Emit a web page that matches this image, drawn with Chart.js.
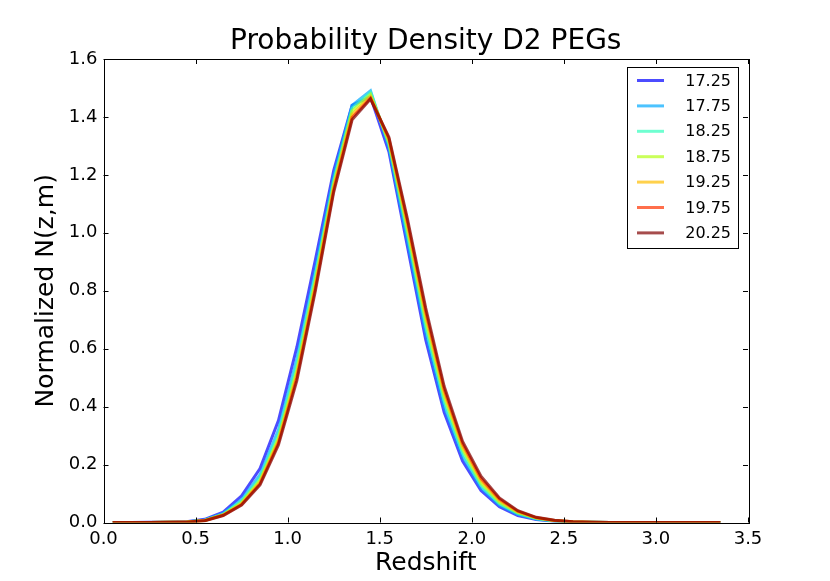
<!DOCTYPE html>
<html>
<head>
<meta charset="utf-8">
<script src="https://cdn.jsdelivr.net/npm/chart.js@4/dist/chart.umd.min.js"></script>
<style>
  body { margin: 0; background: #fff; }
  #wrap { width: 830px; height: 581px; }
</style>
</head>
<body>
<div id="wrap"><canvas id="chart1" width="830" height="581"></canvas></div>
<script>
// redshift bins
const redshift = [0.05, 0.15, 0.25, 0.35, 0.45, 0.55, 0.65, 0.75, 0.85, 0.95,
                  1.05, 1.15, 1.25, 1.35, 1.45, 1.55, 1.65, 1.75, 1.85, 1.95,
                  2.05, 2.15, 2.25, 2.35, 2.45, 2.55, 2.65, 2.75, 2.85, 2.95,
                  3.05, 3.15, 3.25, 3.35];

const magLabels = ["17.25", "17.75", "18.25", "18.75", "19.25", "19.75", "20.25"];

const m1725 = [0, 0, 0.0005, 0.001, 0.003, 0.011, 0.036, 0.092, 0.186, 0.352, 0.605, 0.905, 1.215, 1.440, 1.470, 1.280, 0.955, 0.630, 0.380, 0.212, 0.110, 0.054, 0.024, 0.010, 0.004, 0.0015, 0.0005, 0, 0, 0, 0, 0, 0, 0];
const m1775 = [0, 0, 0.0004, 0.001, 0.002, 0.009, 0.031, 0.080, 0.165, 0.320, 0.565, 0.870, 1.195, 1.440, 1.490, 1.295, 0.975, 0.655, 0.400, 0.228, 0.120, 0.060, 0.028, 0.012, 0.005, 0.002, 0.0007, 0, 0, 0, 0, 0, 0, 0];
const m1825 = [0, 0, 0.0003, 0.001, 0.002, 0.008, 0.029, 0.074, 0.155, 0.305, 0.545, 0.850, 1.180, 1.430, 1.485, 1.305, 0.995, 0.675, 0.418, 0.240, 0.128, 0.065, 0.031, 0.013, 0.005, 0.002, 0.0008, 0, 0, 0, 0, 0, 0, 0];
const m1875 = [0, 0, 0.0003, 0.0008, 0.002, 0.007, 0.027, 0.069, 0.146, 0.292, 0.527, 0.834, 1.168, 1.420, 1.478, 1.312, 1.012, 0.695, 0.434, 0.252, 0.136, 0.070, 0.034, 0.015, 0.006, 0.0025, 0.001, 0, 0, 0, 0, 0, 0, 0];
const m1925 = [0, 0, 0.0002, 0.0007, 0.0015, 0.007, 0.026, 0.065, 0.139, 0.282, 0.512, 0.820, 1.158, 1.408, 1.470, 1.320, 1.028, 0.713, 0.448, 0.263, 0.145, 0.076, 0.037, 0.016, 0.0065, 0.0028, 0.001, 0, 0, 0, 0, 0, 0, 0];
const m1975 = [0, 0, 0.0002, 0.0006, 0.0013, 0.0065, 0.025, 0.062, 0.134, 0.275, 0.500, 0.808, 1.148, 1.398, 1.465, 1.326, 1.040, 0.728, 0.460, 0.272, 0.152, 0.081, 0.039, 0.017, 0.007, 0.003, 0.0011, 0, 0, 0, 0, 0, 0, 0];
const m2025 = [0, 0, 0.0002, 0.0005, 0.0012, 0.006, 0.024, 0.060, 0.130, 0.268, 0.490, 0.798, 1.140, 1.390, 1.462, 1.330, 1.050, 0.740, 0.470, 0.280, 0.160, 0.085, 0.041, 0.018, 0.0075, 0.003, 0.0012, 0, 0, 0, 0, 0, 0, 0];

const xTicks = [0, 0.5, 1.0, 1.5, 2.0, 2.5, 3.0, 3.5];
const yTicks = [0, 0.2, 0.4, 0.6, 0.8, 1.0, 1.2, 1.4, 1.6];

const allSeries = [m1725, m1775, m1825, m1875, m1925, m1975, m2025];
const colors = ['rgba(0,0,255,0.7)', 'rgba(0,170,255,0.7)', 'rgba(50,255,190,0.7)',
                'rgba(180,255,20,0.7)', 'rgba(255,190,0,0.7)', 'rgba(255,50,0,0.7)',
                'rgba(128,0,0,0.7)'];

const FONT = "'DejaVu Sans', sans-serif";

// frame, inward ticks on all four sides and the boxed legend
const framePlugin = {
    id: 'frame',
    afterDraw(chart) {
        const ctx = chart.ctx;
        const a = chart.chartArea;
        const xs = chart.scales.x, ys = chart.scales.y;
        ctx.save();
        ctx.strokeStyle = '#000';
        ctx.lineWidth = 1;
        ctx.strokeRect(Math.round(a.left) + 0.5, Math.round(a.top) + 0.5,
                       Math.round(a.right - a.left), Math.round(a.bottom - a.top));
        ctx.beginPath();
        xTicks.forEach(v => {
            const px = Math.round(xs.getPixelForValue(v)) + 0.5;
            ctx.moveTo(px, a.bottom); ctx.lineTo(px, a.bottom - 5);
            ctx.moveTo(px, a.top); ctx.lineTo(px, a.top + 5);
        });
        yTicks.forEach(v => {
            const py = Math.round(ys.getPixelForValue(v)) + 0.5;
            ctx.moveTo(a.left, py); ctx.lineTo(a.left + 5, py);
            ctx.moveTo(a.right, py); ctx.lineTo(a.right - 5, py);
        });
        ctx.stroke();

        // legend
        const bx = 627, by = 67, bw = 111, bh = 181;
        ctx.fillStyle = '#fff';
        ctx.fillRect(bx, by, bw, bh);
        ctx.strokeRect(bx + 0.5, by + 0.5, bw, bh);
        ctx.font = '16px ' + FONT;
        ctx.textAlign = 'right';
        ctx.textBaseline = 'middle';
        chart.data.datasets.forEach((ds, i) => {
            const yy = 80.5 + i * 25.4;
            ctx.strokeStyle = ds.borderColor;
            ctx.lineWidth = 3;
            ctx.beginPath();
            ctx.moveTo(637, yy); ctx.lineTo(664, yy);
            ctx.stroke();
            ctx.fillStyle = '#000';
            ctx.fillText(ds.label, 731, yy + 1);
        });
        ctx.restore();
    }
};

const ctx1 = document.getElementById('chart1').getContext('2d');
let chart1 = new Chart(ctx1, {
    type: 'line',
    data: {
        datasets: allSeries.map((s, i) => ({
            label: magLabels[i],
            data: s.map((v, j) => ({x: redshift[j], y: v})),
            borderColor: colors[i],
            backgroundColor: colors[i],
            borderWidth: 3,
            pointRadius: 0,
            tension: 0,
            fill: false,
            // last series drawn on top, like matplotlib
            order: allSeries.length - 1 - i
        }))
    },
    options: {
        responsive: false,
        animation: false,
        layout: { padding: { left: 0, right: 82, top: 0, bottom: 0 } },
        plugins: {
            legend: { display: false },
            tooltip: { enabled: false },
            title: {
                display: true,
                text: 'Probability Density D2 PEGs',
                color: '#000',
                fullSize: false,
                font: { family: FONT, size: 28, weight: 'normal' },
                padding: { top: 25.4, bottom: 0 }
            }
        },
        scales: {
            x: {
                type: 'linear',
                min: 0, max: 3.5,
                grid: { display: false, drawTicks: false },
                border: { display: false },
                afterFit: s => { s.height = 58.5; },
                afterBuildTicks: s => { s.ticks = xTicks.map(v => ({value: v})); },
                ticks: {
                    color: '#000',
                    padding: 6,
                    autoSkip: false,
                    maxRotation: 0,
                    font: { family: FONT, size: 18 },
                    callback: v => v.toFixed(1)
                },
                title: {
                    display: true,
                    text: 'Redshift',
                    color: '#000',
                    padding: { top: 0, bottom: 3 },
                    font: { family: FONT, size: 25 }
                }
            },
            y: {
                min: 0, max: 1.6,
                grid: { display: false, drawTicks: false },
                border: { display: false },
                afterFit: s => { s.width = 103.5; },
                afterBuildTicks: s => { s.ticks = yTicks.map(v => ({value: v})); },
                ticks: {
                    color: '#000',
                    padding: 6,
                    autoSkip: false,
                    font: { family: FONT, size: 18 },
                    callback: v => v.toFixed(1)
                },
                title: {
                    display: true,
                    text: 'Normalized N(z,m)',
                    color: '#000',
                    padding: { top: 31, bottom: 0 },
                    font: { family: FONT, size: 25 }
                }
            }
        }
    },
    plugins: [framePlugin]
});
</script>
</body>
</html>
